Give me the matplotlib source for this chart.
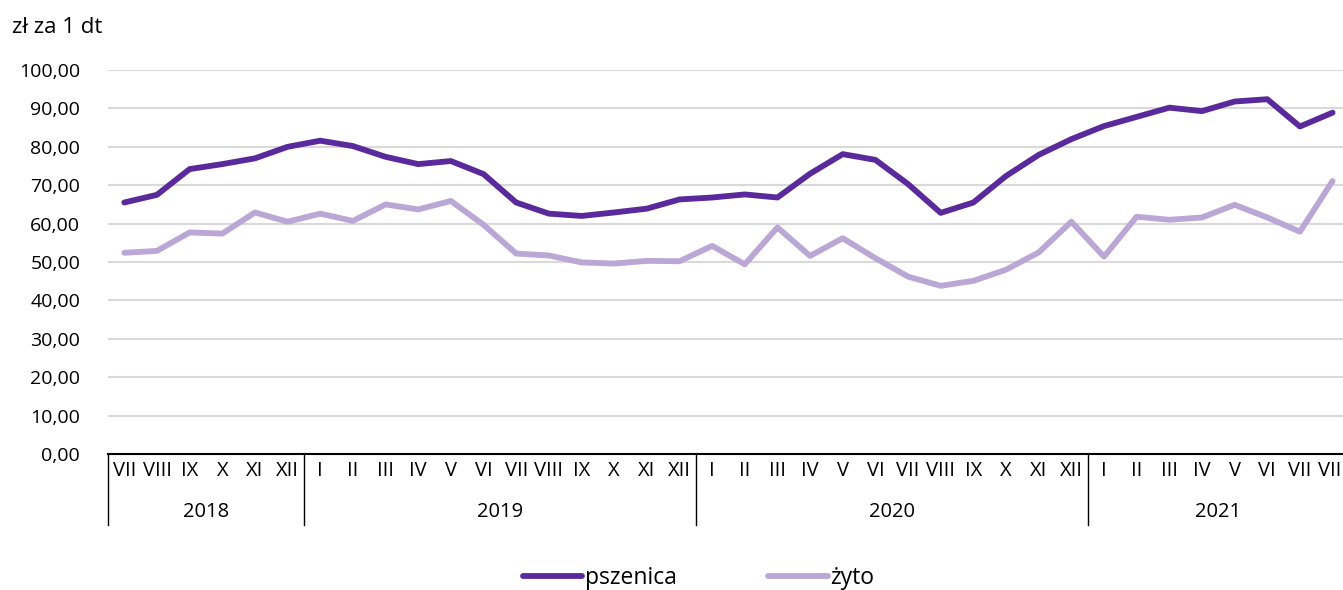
import matplotlib
matplotlib.use("Agg")
import matplotlib.pyplot as plt
import matplotlib.transforms as mtransforms

plt.rcParams['font.family'] = ['Open Sans', 'DejaVu Sans']

# miesiace i lata
months = ['VII', 'VIII', 'IX', 'X', 'XI', 'XII'] + \
    ['I', 'II', 'III', 'IV', 'V', 'VI', 'VII', 'VIII', 'IX', 'X', 'XI', 'XII'] * 2 + \
    ['I', 'II', 'III', 'IV', 'V', 'VI', 'VII', 'VIII']
years = ['2018', '2019', '2020', '2021']
year_lengths = [6, 12, 12, 8]

# ceny skupu (zl za 1 dt)
pszenica = [65.5, 67.5, 74.2, 75.5, 77.0, 80.0, 81.6, 80.2, 77.4, 75.5, 76.3, 72.9,
            65.5, 62.6, 62.0, 62.9, 63.9, 66.3, 66.8, 67.6, 66.8, 73.0, 78.1, 76.6,
            70.3, 62.8, 65.5, 72.4, 77.9, 82.0, 85.4, 87.8, 90.2, 89.3, 91.8, 92.4,
            85.3, 88.9]
zyto = [52.4, 52.9, 57.7, 57.4, 62.9, 60.5, 62.6, 60.7, 65.0, 63.7, 65.9, 59.7,
        52.2, 51.7, 49.9, 49.6, 50.3, 50.2, 54.2, 49.4, 59.0, 51.6, 56.2, 51.0,
        46.2, 43.8, 45.1, 48.0, 52.5, 60.5, 51.4, 61.8, 61.0, 61.6, 64.9, 61.6,
        57.9, 71.1]

dark = '#5a2a9c'
light = '#bba7d6'

fig = plt.figure(figsize=(13.43, 5.90), dpi=100)
# os wychodzi nieco poza prawa krawedz, jak w oryginale
ax = fig.add_axes([0.0804, 0.2305, 0.924, 0.6508])

x = list(range(len(months)))
ax.plot(x, pszenica, color=dark, lw=4.2, solid_capstyle='round', label='pszenica', zorder=3)
ax.plot(x, zyto, color=light, lw=4.2, solid_capstyle='round', label='żyto', zorder=3)

ax.set_xlim(-0.5, len(months) - 0.5)
ax.set_ylim(0, 100)
ax.set_yticks(range(0, 101, 10))
ax.set_yticklabels([f'{v},00' for v in range(0, 101, 10)], fontsize=14)
ax.tick_params(axis='y', length=0, pad=20)
ax.set_xticks([])
ax.grid(axis='y', color='#d9d9d9', lw=1.5)
ax.set_axisbelow(True)
for s in ['top', 'right', 'left']:
    ax.spines[s].set_visible(False)
ax.spines['bottom'].set_linewidth(1.5)
ax.spines['bottom'].set_zorder(4)

# etykiety miesiecy i lat pod osia
trans = mtransforms.blended_transform_factory(ax.transData, ax.transAxes)
for i, m in enumerate(months):
    ax.text(i, -0.045, m, transform=trans, ha='center', va='center', fontsize=14.5)

start = -0.5
for yr, n in zip(years, year_lengths):
    ax.plot([start, start], [0, -0.185], transform=trans, color='black', lw=1.0, clip_on=False)
    ax.text(start + n / 2, -0.15, yr, transform=trans, ha='center', va='center', fontsize=14.5)
    start += n

fig.text(0.009, 0.953, 'zł za 1 dt', fontsize=16, ha='left', va='center')

fig.legend(loc='center', bbox_to_anchor=(0.52, 0.02), ncol=2, frameon=False, fontsize=16.5,
           handlelength=2.6, handletextpad=0.1, columnspacing=4.0)

fig.savefig('out.png', dpi=100)
